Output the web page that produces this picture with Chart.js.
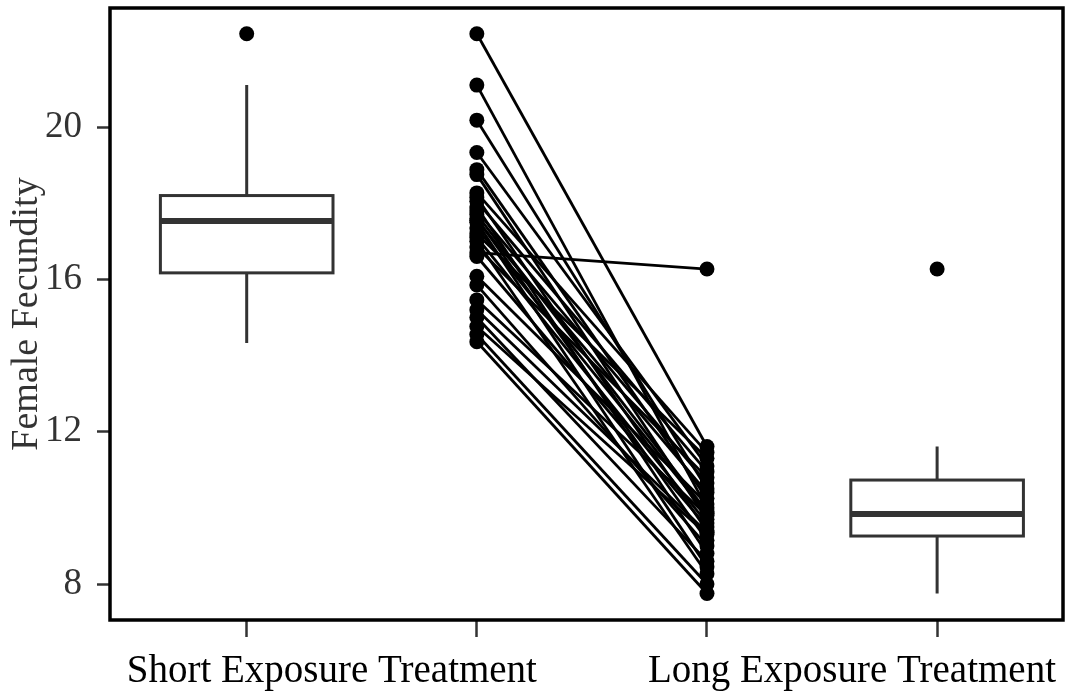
<!DOCTYPE html>
<html>
<head>
<meta charset="utf-8">
<script src="https://cdn.jsdelivr.net/npm/chart.js@4.4.1/dist/chart.umd.min.js"></script>
<style>
  html, body { margin: 0; padding: 0; background: #fff; }
  #wrap { width: 1073px; height: 696px; }
</style>
</head>
<body>
<div id="wrap"><canvas id="fecundity"></canvas></div>
<script>
// paired fecundity per female, same order in both lists
const shortExposure = [22.45, 21.1, 20.18, 19.33, 18.88, 18.75, 18.27, 18.15, 18.05, 17.9,
                       17.8, 17.7, 17.6, 17.55, 17.5, 17.35, 17.2, 17.1, 17.0, 16.85,
                       16.7, 16.6, 16.08, 15.85, 15.46, 15.2, 15.0, 14.76, 14.55, 14.36];
const longExposure  = [11.61, 10.0, 10.5, 11.1, 10.25, 9.7, 11.45, 9.4, 10.95, 8.8,
                       10.65, 9.9, 9.15, 10.4, 8.45, 9.85, 11.3, 9.6, 8.27, 10.8,
                       16.27, 9.5, 10.1, 9.0, 9.8, 9.35, 8.6, 9.3, 8.0, 7.75];

// box summaries: [whiskerLow, q1, median, q3, whiskerHigh]
const boxPositions = [1, 4];
const boxSummaries = [
  [14.33, 16.17, 17.53, 18.2, 21.1],
  [7.75, 9.26, 9.84, 10.73, 11.61]
];
const boxOutliers = [[22.45], [16.27]];

const groupLabels = ['Short Exposure Treatment', 'Long Exposure Treatment'];
const groupLabelAt = [1.37, 3.63];
const xTicks = [1, 2, 3, 4];
const yTicks = [8, 12, 16, 20];

const serif = '"Liberation Serif", "DejaVu Serif", serif';

const pairSets = shortExposure.map((s, i) => ({
  type: 'line',
  data: [{x: 2, y: s}, {x: 3, y: longExposure[i]}],
  borderColor: '#000',
  backgroundColor: '#000',
  borderWidth: 2.8,
  pointRadius: 7.5,
  pointBorderWidth: 0,
  pointBackgroundColor: '#000'
}));

const outlierSet = {
  type: 'scatter',
  data: boxPositions.flatMap((x, i) => boxOutliers[i].map(y => ({x, y}))),
  pointRadius: 7.5,
  pointBorderWidth: 0,
  pointBackgroundColor: '#000'
};

// boxes + frame drawn against the chart scales
const boxPlugin = {
  id: 'boxes',
  beforeDatasetsDraw(chart) {
    const {ctx, scales: {x, y}} = chart;
    ctx.save();
    ctx.strokeStyle = '#333';
    boxPositions.forEach((pos, i) => {
      const [lo, q1, med, q3, hi] = boxSummaries[i].map(v => y.getPixelForValue(v));
      const cx = x.getPixelForValue(pos);
      const x0 = x.getPixelForValue(pos - 0.375);
      const x1 = x.getPixelForValue(pos + 0.375);
      ctx.lineWidth = 3;
      ctx.beginPath();
      ctx.moveTo(cx, hi); ctx.lineTo(cx, q3);
      ctx.moveTo(cx, q1); ctx.lineTo(cx, lo);
      ctx.stroke();
      ctx.strokeRect(x0, q3, x1 - x0, q1 - q3);
      ctx.lineWidth = 6;
      ctx.beginPath();
      ctx.moveTo(x0, med); ctx.lineTo(x1, med);
      ctx.stroke();
    });
    ctx.restore();
  },
  afterDraw(chart) {
    const {ctx, chartArea: a} = chart;
    ctx.save();
    ctx.strokeStyle = '#000';
    ctx.lineWidth = 3.5;
    ctx.strokeRect(a.left, a.top, a.right - a.left, a.bottom - a.top);
    ctx.restore();
  }
};

new Chart(document.getElementById('fecundity'), {
  type: 'line',
  data: { datasets: [...pairSets, outlierSet] },
  plugins: [boxPlugin],
  options: {
    responsive: true,
    maintainAspectRatio: false,
    animation: false,
    layout: { padding: { top: 8, right: 10, left: 0, bottom: 0 } },
    plugins: { legend: { display: false }, tooltip: { enabled: false } },
    scales: {
      x: {
        type: 'linear',
        min: 0.406,
        max: 4.547,
        afterBuildTicks(scale) {
          scale.ticks = [...xTicks, ...groupLabelAt].sort((p, q) => p - q).map(v => ({value: v}));
        },
        afterFit(scale) {
          scale.height = 76;
          scale.paddingLeft = 0;
          scale.paddingRight = 0;
        },
        border: { display: false },
        grid: {
          drawOnChartArea: false,
          tickLength: 17,
          tickWidth: 2.5,
          tickColor: ctx => xTicks.includes(ctx.tick && ctx.tick.value) ? '#333' : 'rgba(0,0,0,0)'
        },
        ticks: {
          autoSkip: false,
          maxRotation: 0,
          padding: 11,
          color: '#000',
          font: { family: serif, size: 39 },
          callback: v => {
            const k = groupLabelAt.indexOf(v);
            return k >= 0 ? groupLabels[k] : '';
          }
        }
      },
      y: {
        min: 7.055,
        max: 23.125,
        afterBuildTicks(scale) { scale.ticks = yTicks.map(v => ({value: v})); },
        afterFit(scale) {
          scale.width = 110;
          scale.paddingTop = 0;
          scale.paddingBottom = 0;
        },
        border: { display: false },
        grid: {
          drawOnChartArea: false,
          tickLength: 13,
          tickWidth: 2.5,
          tickColor: '#333'
        },
        ticks: {
          padding: 15,
          color: '#333',
          font: { family: serif, size: 37 }
        },
        title: {
          display: true,
          text: 'Female Fecundity',
          color: '#333',
          font: { family: serif, size: 38 },
          padding: { top: 4, bottom: 0 }
        }
      }
    }
  }
});
</script>
</body>
</html>
